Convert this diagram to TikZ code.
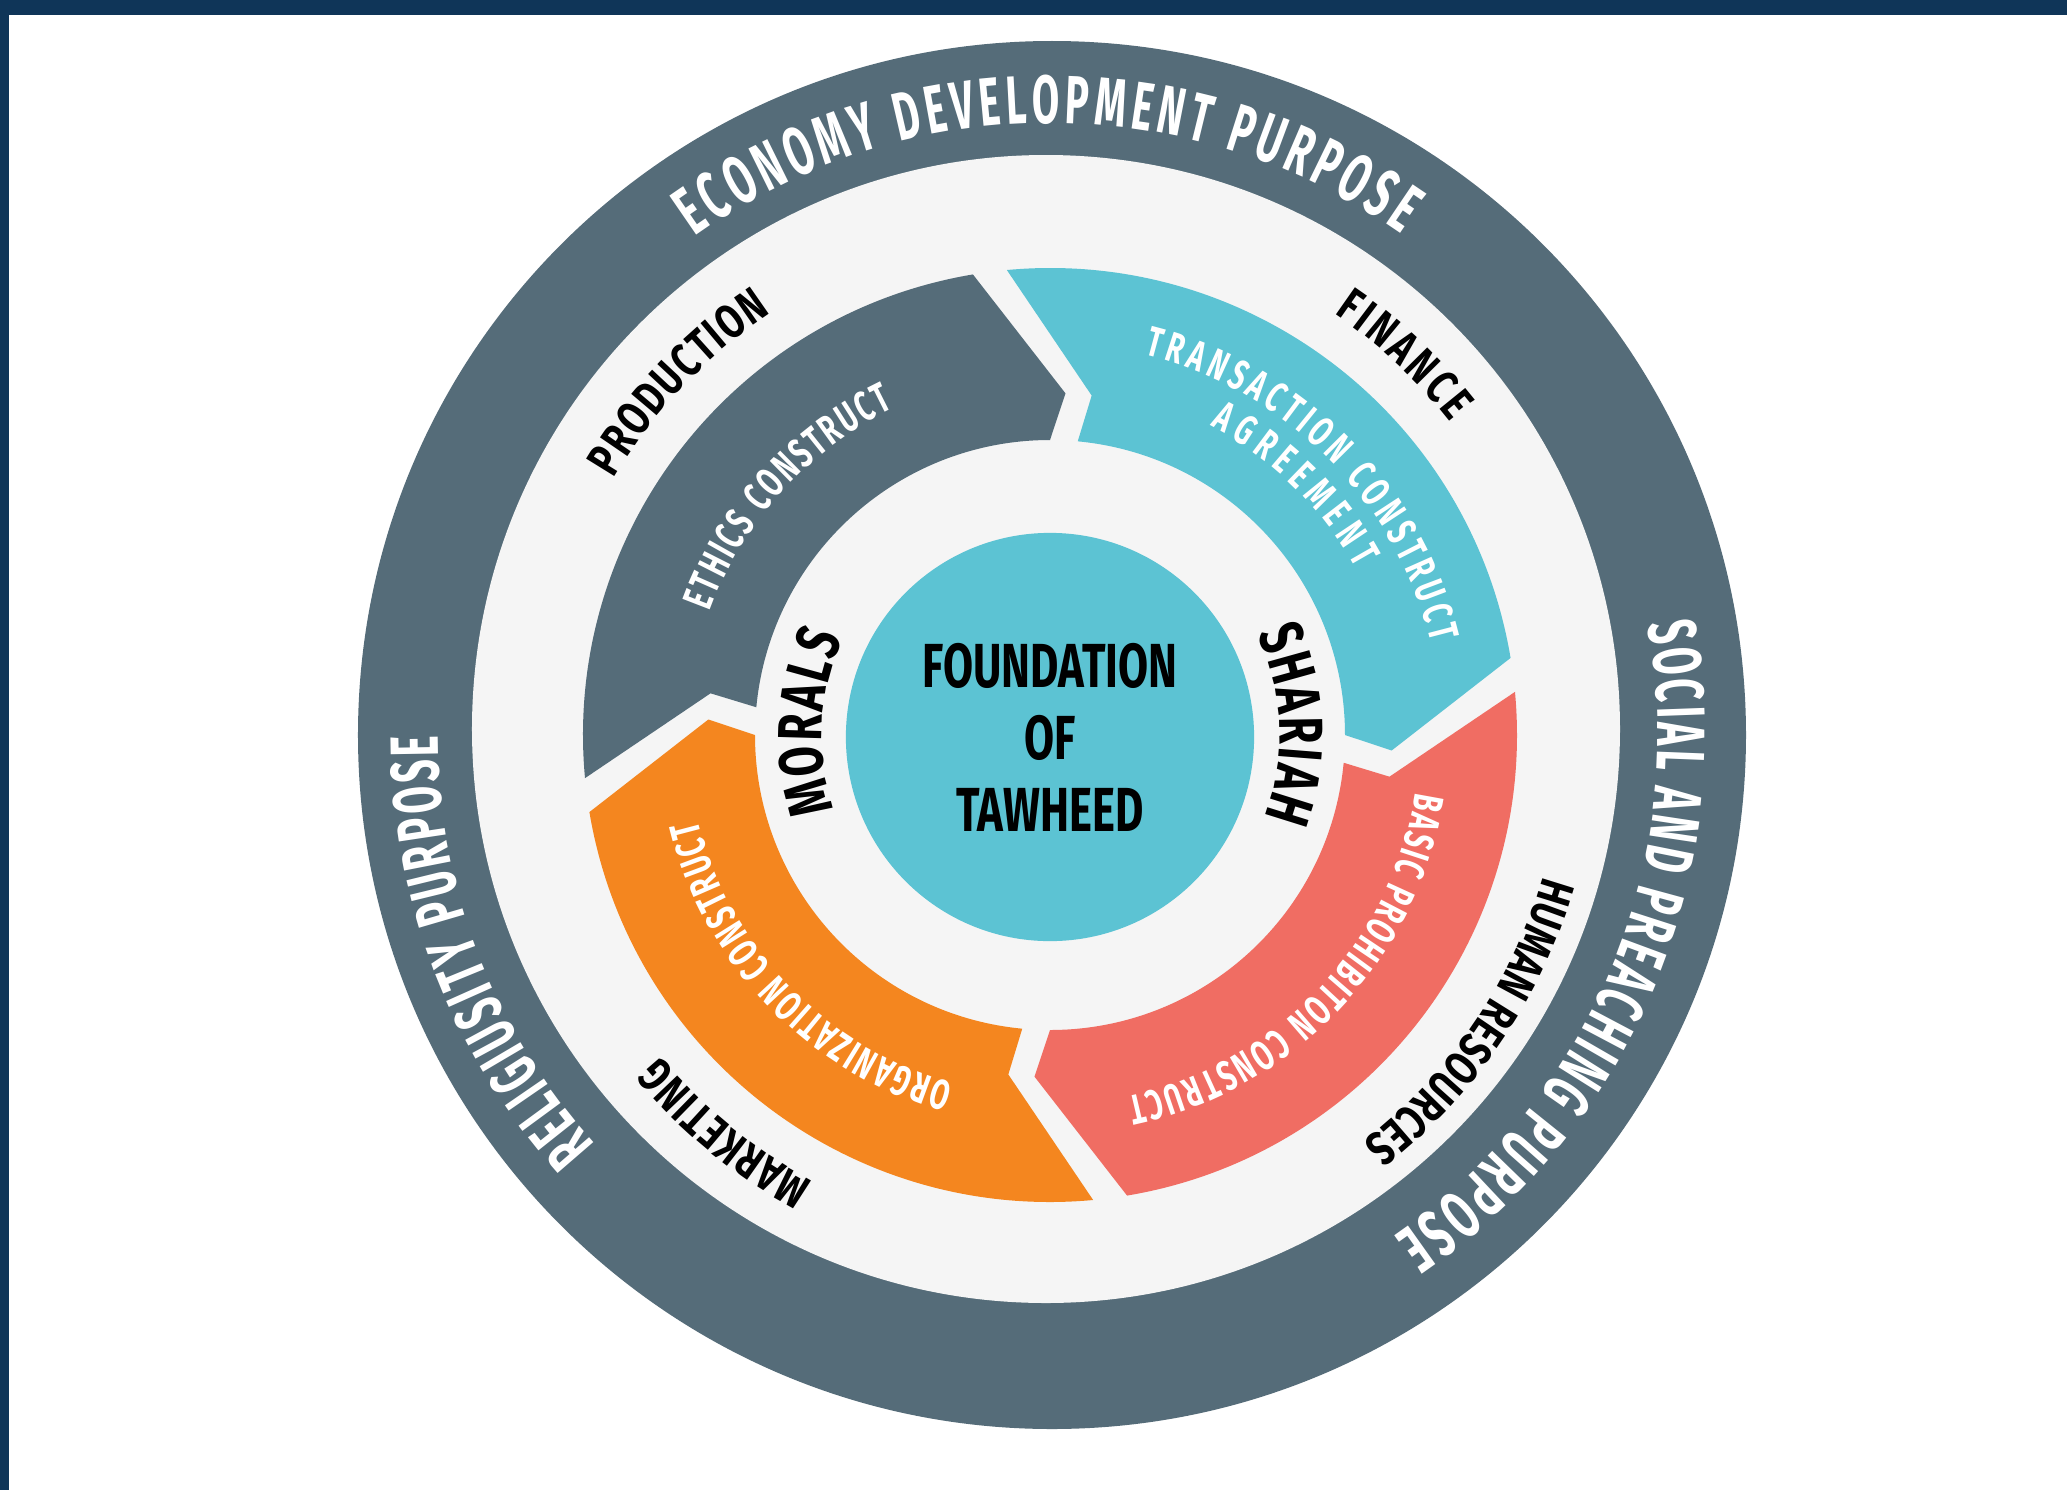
\documentclass[tikz,border=0pt]{standalone}
\usepackage{fontspec}
\usepackage{tikz}
\usetikzlibrary{decorations.text}

\newfontfamily\ringsans{Fira Sans}[FakeStretch=0.58]
\newfontfamily\segsans{Fira Sans}[FakeStretch=0.65]
\newfontfamily\tagsans{Fira Sans}[FakeStretch=0.75]
\newfontfamily\widesans{Fira Sans}[FakeStretch=0.7]
\newcommand\ringfont{\ringsans\bfseries\fontsize{19.4}{22}\selectfont}
\newcommand\segfont{\segsans\bfseries\fontsize{12}{14}\selectfont}
\newcommand\tagfont{\tagsans\bfseries\fontsize{13.6}{16}\selectfont}
\newcommand\pillarfont{\widesans\bfseries\fontsize{17.7}{20}\selectfont}
\newcommand\corefont{\widesans\bfseries\fontsize{17.7}{20.5}\selectfont}

\definecolor{framenavy}{HTML}{0F3558}
\definecolor{slate}{HTML}{556C79}
\definecolor{haze}{HTML}{F5F5F5}
\definecolor{tealc}{HTML}{5CC3D3}
\definecolor{coral}{HTML}{F06D63}
\definecolor{amber}{HTML}{F4861F}

\begin{document}
\begin{tikzpicture}[x=0.01cm,y=0.01cm,
  ringtext/.style={decorate,decoration={text along path,text align={fit to path},
    text color=white,text={|\ringfont|#1}}},
  segtext/.style={decorate,decoration={text along path,text align={fit to path},
    text color=white,text={|\segfont|#1}}},
  tagtext/.style={decorate,decoration={text along path,text align={fit to path},
    text color=black,text={|\tagfont|#1}}},
  pillartext/.style={decorate,decoration={text along path,text align={fit to path},
    text color=black,text={|\pillarfont|#1}}}]
  \useasboundingbox (-1050,-755) rectangle (1017,735);
  \fill[white] (-1050,-755) rectangle (1017,735);
  \fill[framenavy] (-1050,720) rectangle (1017,735);
  \fill[framenavy] (-1050,-755) rectangle (-1041,735);

  % purpose ring and background disk
  \fill[slate] (2,0) circle[radius=694];
  \fill[haze] (-4,6) circle[radius=574];

  % four constructs, each one an arrow pointing clockwise
  \foreach \a/\col in {180/slate,90/tealc,0/coral,270/amber}
    \fill[\col] ({\a+5.3}:467) arc[start angle=\a+5.3,end angle=\a-80.5,radius=467]
      -- ({\a-92.6}:342) -- ({\a-90}:295)
      arc[start angle=\a-90,end angle=\a-5.4,radius=295]
      -- ({\a-7}:342) -- cycle;

  \node[circle,fill=tealc,minimum size=4.08cm,inner sep=0pt,align=center,font=\corefont]
    (core) at (0,-2) {FOUNDATION\\OF\\TAWHEED};

  \path[ringtext=ECONOMY DEVELOPMENT PURPOSE] (125.5:612) arc[start angle=125.5,end angle=55,radius=612];
  \path[ringtext=SOCIAL AND PREACHING PURPOSE] (10.5:608) arc[start angle=10.5,end angle=-55.5,radius=608];
  \path[ringtext=RELIGIUSITY PURPOSE] (222:612) arc[start angle=222,end angle=180,radius=612];

  \path[segtext=ETHICS CONSTRUCT] (160:362) arc[start angle=160,end angle=115.5,radius=362];
  \path[segtext=TRANSACTION CONSTRUCT] (76:392) arc[start angle=76,end angle=13.5,radius=392];
  \path[segtext=AGREEMENT] (62.6:348) arc[start angle=62.6,end angle=28.6,radius=348];
  \path[segtext=BASIC PROHIBITON CONSTRUCT] (-9:370) arc[start angle=-9,end angle=-78,radius=370];
  \path[segtext=ORGANIZATION CONSTRUCT] (254.5:362) arc[start angle=254.5,end angle=193.5,radius=362];

  \path[tagtext=PRODUCTION] (149.5:506) arc[start angle=149.5,end angle=123.5,radius=506];
  \path[tagtext=FINANCE] (56:508) arc[start angle=56,end angle=38,radius=508];
  \path[tagtext=HUMAN RESOURCES] (-16:513) arc[start angle=-16,end angle=-52.5,radius=513];
  \path[tagtext=MARKETING] (242:505) arc[start angle=242,end angle=219.5,radius=505];

  \path[pillartext=MORALS] (199:228) arc[start angle=199,end angle=155,radius=228];
  \path[pillartext=SHARIAH] (26:230) arc[start angle=26,end angle=-21,radius=230];
\end{tikzpicture}
\end{document}
